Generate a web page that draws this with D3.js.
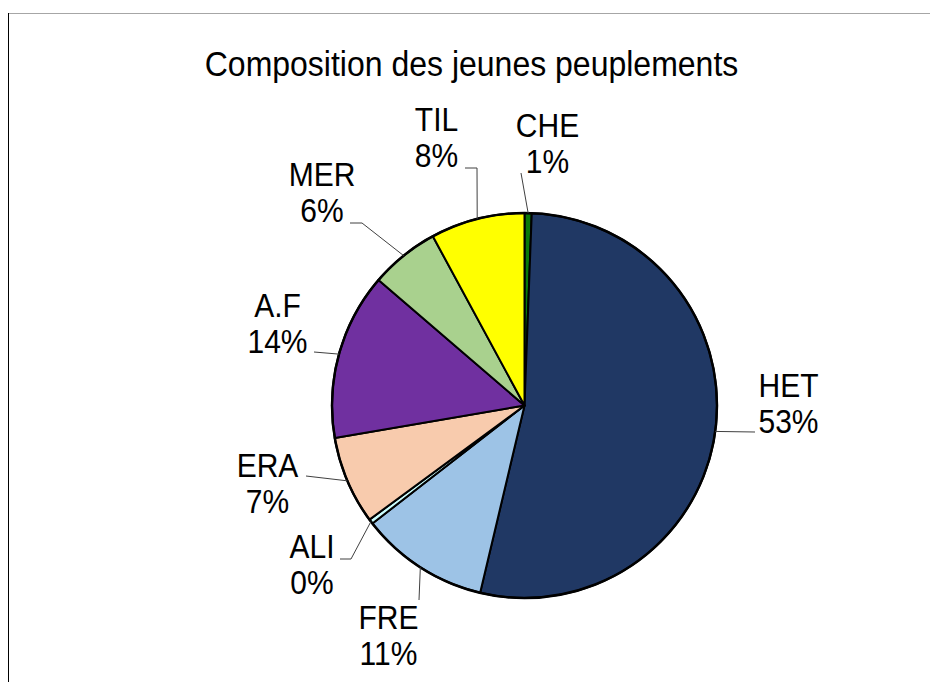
<!DOCTYPE html>
<html>
<head>
<meta charset="utf-8">
<script src="https://cdn.jsdelivr.net/npm/d3@7"></script>
<style>
  html, body { margin: 0; padding: 0; background: #fff; }
  svg { display: block; }
  text { font-family: "Liberation Sans", Arial, sans-serif; fill: #000; }
</style>
</head>
<body>
<svg id="chart" width="931" height="682"></svg>
<script>
// ---- data ----
const title = "Composition des jeunes peuplements";
const categories = ["CHE", "HET", "FRE", "ALI", "ERA", "A.F", "MER", "TIL"];
const values = [0.6, 53.1, 10.8, 0.4, 7.4, 14.0, 5.8, 7.9];
const percentLabels = ["1%", "53%", "11%", "0%", "7%", "14%", "6%", "8%"];

// ---- styles ----
const palette = ["#0a7a0a", "#203864", "#9dc3e6", "#ccffff", "#f8cbad", "#7030a0", "#a9d18e", "#ffff00"];

// ---- layout ----
const W = 931, H = 682;
const cx = 524.5, cy = 405.5, R = 192.5;
const fontSize = 30, lineGap = 36, textStretch = 1.08;
// label block: text center (relative to pie center) and first-line baseline; leader elbow/end points
const labelLayout = {
  "CHE": { x: 23,   y: -269, leader: [[-3.5, -232.5]] },
  "HET": { x: 264,  y: -9,   leader: [[230.5, 26.5]] },
  "FRE": { x: -136, y: 223,  leader: [[-105.5, 194.5]] },
  "ALI": { x: -212.5, y: 152.5, leader: [[-173.5, 153.5], [-184.5, 153.5]] },
  "ERA": { x: -257, y: 71.5, leader: [[-218.5, 70.5]] },
  "A.F": { x: -247, y: -88.5, leader: [[-210.5, -53.5]] },
  "MER": { x: -202.5, y: -219.5, leader: [[-162.5, -182.5], [-174.5, -182.5]] },
  "TIL": { x: -88,  y: -274.5, leader: [[-47.5, -237.5], [-59.5, -237.5]] }
};

const svg = d3.select("#chart");

// frame lines
svg.append("line").attr("x1", 8).attr("x2", 930).attr("y1", 13.5).attr("y2", 13.5)
  .attr("stroke", "#a6a6a6").attr("stroke-width", 1);
svg.append("line").attr("x1", 8.5).attr("x2", 8.5).attr("y1", 13).attr("y2", H)
  .attr("stroke", "#000").attr("stroke-width", 1);

// title
svg.append("text")
  .attr("transform", `translate(471.5,76) scale(1,${textStretch})`)
  .attr("text-anchor", "middle").attr("font-size", 32)
  .text(title);

const data = categories.map((c, i) => ({ cat: c, value: values[i], pct: percentLabels[i], color: palette[i] }));

const pie = d3.pie().sort(null).value(d => d.value).startAngle(0).endAngle(2 * Math.PI);
const arcs = pie(data);
const arc = d3.arc().innerRadius(0).outerRadius(R);

const g = svg.append("g").attr("transform", `translate(${cx},${cy})`);

g.selectAll("path.slice").data(arcs).join("path")
  .attr("class", "slice")
  .attr("d", arc)
  .attr("fill", d => d.data.color)
  .attr("stroke", "#000")
  .attr("stroke-width", 2)
  .attr("stroke-linejoin", "round");

// outer rim slightly heavier
g.append("circle").attr("r", R).attr("fill", "none").attr("stroke", "#000").attr("stroke-width", 2.5);

// leader lines
arcs.forEach(a => {
  const mid = (a.startAngle + a.endAngle) / 2;
  const p0 = [Math.sin(mid) * R, -Math.cos(mid) * R];
  const pts = [p0].concat(labelLayout[a.data.cat].leader);
  g.append("path")
    .attr("d", d3.line()(pts))
    .attr("fill", "none")
    .attr("stroke", "#404040")
    .attr("stroke-width", 1);
});

// labels
arcs.forEach(a => {
  const L = labelLayout[a.data.cat];
  [a.data.cat, a.data.pct].forEach((s, k) => {
    g.append("text")
      .attr("transform", `translate(${L.x},${L.y + k * lineGap}) scale(1,${textStretch})`)
      .attr("text-anchor", "middle")
      .attr("font-size", fontSize)
      .text(s);
  });
});
</script>
</body>
</html>
